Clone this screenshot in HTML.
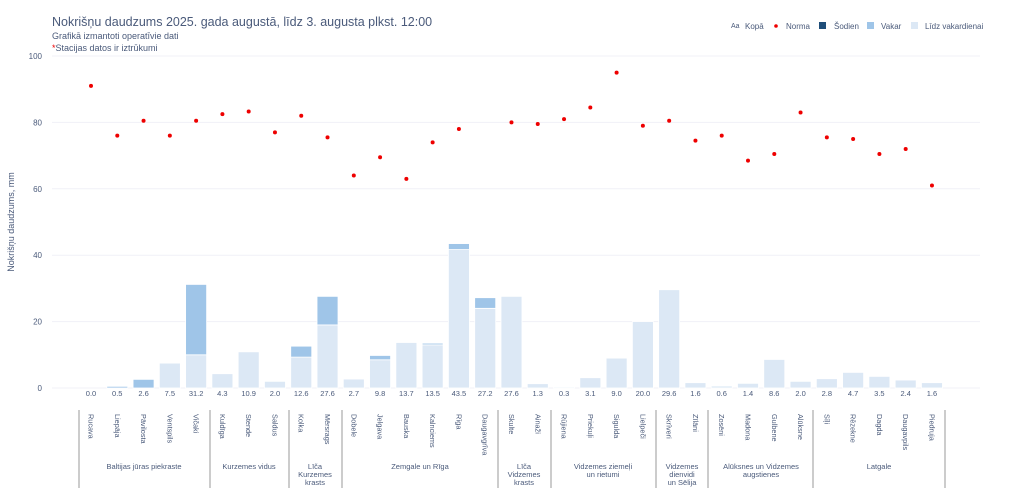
<!DOCTYPE html>
<html><head><meta charset="utf-8"><style>
body{margin:0;background:#fff;width:1024px;height:494px;overflow:hidden;font-family:"Liberation Sans",sans-serif}
svg text{font-family:"Liberation Sans",sans-serif;fill:#4a5a7a}
</style></head><body>
<svg id="s" width="1024" height="494" xmlns="http://www.w3.org/2000/svg">
<text x="52" y="26" font-size="12.5">Nokrišņu daudzums 2025. gada augustā, līdz 3. augusta plkst. 12:00</text>
<text x="52" y="39" font-size="9">Grafikā izmantoti operatīvie dati</text>
<text x="52" y="51" font-size="9"><tspan style="fill:#e00">*</tspan>Stacijas datos ir iztrūkumi</text>
<text x="731" y="28" font-size="7">Aa</text><text x="745" y="29" font-size="8">Kopā</text>
<circle cx="776" cy="26" r="1.8" fill="#e00"/><text x="786" y="29" font-size="8">Norma</text>
<rect x="819" y="22" width="7" height="7" fill="#1f4e79"/><text x="834" y="29" font-size="8">Šodien</text>
<rect x="867" y="22" width="7" height="7" fill="#9fc5e8"/><text x="881" y="29" font-size="8">Vakar</text>
<rect x="911" y="22" width="7" height="7" fill="#dce8f5"/><text x="925" y="29" font-size="8">Līdz vakardienai</text>
<text x="14" y="222" font-size="9" transform="rotate(-90 14 222)" text-anchor="middle">Nokrišņu daudzums, mm</text>
<g id="g"></g>
</svg>
<script>
var d=[["Rucava",0,0,91],["Liepāja",0,0.5,76],["Pāvilosta",0,2.6,80.5],["Ventspils",7.5,0,76],["Vičaki",10,21.2,80.5],["Kuldīga",4.3,0,82.5],["Stende",10.9,0,83.3],["Saldus",2,0,77],["Kolka",9.3,3.3,82],["Mērsrags",19,8.6,75.5],["Dobele",2.7,0,64],["Jelgava",8.5,1.3,69.5],["Bauska",13.7,0,63],["Kalnciems",13,0.5,74],["Rīga",41.7,1.8,78],["Daugavgrīva",24,3.2,null],["Skulte",27.6,0,80],["Ainaži",1.3,0,79.5],["Rūjiena",0.3,0,81],["Priekuļi",3.1,0,84.5],["Sigulda",9,0,95],["Lielpeči",20,0,79],["Skrīveri",29.6,0,80.5],["Zīlāni",1.6,0,74.5],["Zosēni",0.6,0,76],["Madona",1.4,0,68.5],["Gulbene",8.6,0,70.5],["Alūksne",2,0,83],["Sīļi",2.8,0,75.5],["Rēzekne",4.7,0,75],["Dagda",3.5,0,70.5],["Daugavpils",2.4,0,72],["Piedruja",1.6,0,61]];
var tot=["0.0","0.5","2.6","7.5","31.2","4.3","10.9","2.0","12.6","27.6","2.7","9.8","13.7","13.5","43.5","27.2","27.6","1.3","0.3","3.1","9.0","20.0","29.6","1.6","0.6","1.4","8.6","2.0","2.8","4.7","3.5","2.4","1.6"];
var h='';function Y(v){return 388-v*3.32}
for(var v=0;v<=100;v+=20){h+='<line x1="52" x2="980" y1="'+Y(v)+'" y2="'+Y(v)+'" stroke="#f0f1f7" stroke-width="1"/><text x="42" y="'+(Y(v)+3)+'" font-size="8" text-anchor="end">'+v+'</text>';}
for(var i=0;i<d.length;i++){var x=91+i*26.28,a=d[i];
if(a[1]>0)h+='<rect x="'+(x-10.5)+'" y="'+Y(a[1])+'" width="21" height="'+(a[1]*3.32)+'" fill="#dce8f5" stroke="#fff" stroke-width="0.8"/>';
if(a[2]>0)h+='<rect x="'+(x-10.5)+'" y="'+Y(a[1]+a[2])+'" width="21" height="'+(a[2]*3.32)+'" fill="#9fc5e8" stroke="#fff" stroke-width="0.8"/>';
if(a[3])h+='<circle cx="'+x+'" cy="'+Y(a[3])+'" r="2" fill="#e00"/>';
h+='<text x="'+x+'" y="396" font-size="7.5" text-anchor="middle">'+tot[i]+'</text>';
h+='<text x="'+(x-2.5)+'" y="414" font-size="7.3" transform="rotate(90 '+(x-2.5)+' 414)">'+a[0]+'</text>';}
var sep=[79,210,289,342,498,551,656,708,813,945];
sep.forEach(function(s){h+='<line x1="'+s+'" x2="'+s+'" y1="410" y2="488" stroke="#999" stroke-width="1"/>';});
var gl=[[144,["Baltijas jūras piekraste"]],[249,["Kurzemes vidus"]],[315,["Līča","Kurzemes","krasts"]],[420,["Zemgale un Rīga"]],[524,["Līča","Vidzemes","krasts"]],[603,["Vidzemes ziemeļi","un rietumi"]],[682,["Vidzemes","dienvidi","un Sēlija"]],[761,["Alūksnes un Vidzemes","augstienes"]],[879,["Latgale"]]];
gl.forEach(function(g){g[1].forEach(function(t,j){h+='<text x="'+g[0]+'" y="'+(469+j*8)+'" font-size="7.5" text-anchor="middle">'+t+'</text>';});});
document.getElementById('g').innerHTML=h;
</script>
</body></html>
